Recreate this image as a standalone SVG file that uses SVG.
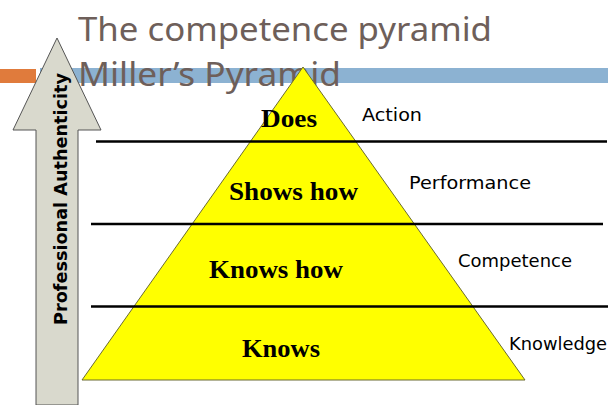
<svg xmlns="http://www.w3.org/2000/svg" width="608" height="405" viewBox="0 0 608 405">
  <style>
    .title { font-family: "Noto Sans", "DejaVu Sans", sans-serif; font-size: 33px; fill: #6e5f5a; }
    .level { font-family: "Liberation Serif", "Times New Roman", serif; font-weight: bold; font-size: 25px; fill: #000; }
    .side { font-family: "DejaVu Sans", "Noto Sans", sans-serif; font-size: 17px; fill: #000; }
    .axis { font-family: "DejaVu Sans", "Noto Sans", sans-serif; font-weight: bold; font-size: 17px; fill: #000; }
    .rule { stroke: #000; stroke-width: 2.5; }
  </style>
  <rect width="608" height="405" fill="#ffffff"/>
  <g id="banner">
    <rect x="0" y="69" width="36" height="14" fill="#e07b3c"/>
    <rect x="40" y="68" width="568" height="15" fill="#8cb2d2"/>
  </g>
  <g id="title">
    <text class="title" x="78" y="41" textLength="414" lengthAdjust="spacingAndGlyphs">The competence pyramid</text>
    <text class="title" x="78" y="86" textLength="263" lengthAdjust="spacingAndGlyphs">Miller’s Pyramid</text>
  </g>
  <g id="pyramid">
    <polygon points="303,67 82,380 525,380" fill="#ffff00" stroke="#6b6b30" stroke-width="1"/>
  </g>
  <g id="connectors">
    <line class="rule" x1="96" y1="141.5" x2="607" y2="141.5"/>
    <line class="rule" x1="91" y1="224" x2="603" y2="224"/>
    <line class="rule" x1="91" y1="306.5" x2="608" y2="306.5"/>
  </g>
  <g id="arrow">
    <polygon points="57,38 101,130 78,130 78,405 36,405 36,130 13,130" fill="#d9d9cd" stroke="#555555" stroke-width="1"/>
    <text class="axis" transform="translate(67,325) rotate(-90)" textLength="252" lengthAdjust="spacingAndGlyphs">Professional Authenticity</text>
  </g>
  <g id="does"><text class="level" x="261" y="127" textLength="56" lengthAdjust="spacingAndGlyphs">Does</text></g>
  <g id="shows-how"><text class="level" x="229" y="200" textLength="129" lengthAdjust="spacingAndGlyphs">Shows how</text></g>
  <g id="knows-how"><text class="level" x="209" y="278" textLength="134" lengthAdjust="spacingAndGlyphs">Knows how</text></g>
  <g id="knows"><text class="level" x="242" y="357" textLength="78" lengthAdjust="spacingAndGlyphs">Knows</text></g>
  <g id="action"><text class="side" x="362" y="121" textLength="60" lengthAdjust="spacingAndGlyphs">Action</text></g>
  <g id="performance"><text class="side" x="409" y="189" textLength="122" lengthAdjust="spacingAndGlyphs">Performance</text></g>
  <g id="competence"><text class="side" x="458" y="267" textLength="114" lengthAdjust="spacingAndGlyphs">Competence</text></g>
  <g id="knowledge"><text class="side" x="509" y="350" textLength="98" lengthAdjust="spacingAndGlyphs">Knowledge</text></g>
</svg>
